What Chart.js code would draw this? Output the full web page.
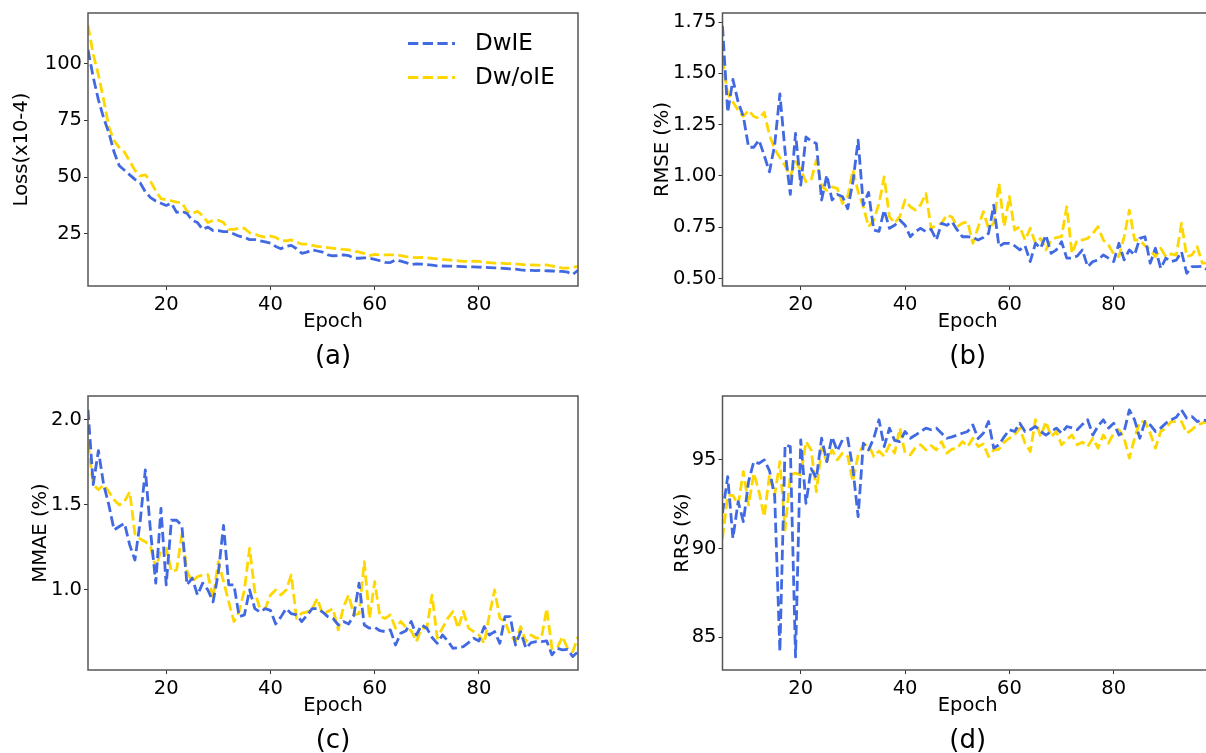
<!DOCTYPE html>
<html><head><meta charset="utf-8">
<script src="https://cdn.jsdelivr.net/npm/chart.js@4.4.0/dist/chart.umd.min.js"></script>
<style>
html,body{margin:0;padding:0;background:#fff;overflow:hidden;width:1206px;height:753px;position:relative;}
.box{position:absolute;}
canvas{display:block;}
</style></head><body>
<div class="box" style="left:0px;top:0px"><canvas id="ca" width="603" height="380" style="width:603px;height:380px"></canvas></div>
<div class="box" style="left:600px;top:0px"><canvas id="cb" width="620" height="380" style="width:620px;height:380px"></canvas></div>
<div class="box" style="left:0px;top:380px"><canvas id="cc" width="603" height="373" style="width:603px;height:373px"></canvas></div>
<div class="box" style="left:600px;top:380px"><canvas id="cd" width="620" height="373" style="width:620px;height:373px"></canvas></div>
<script>
// ---------------- data ----------------
const seriesNames = ['DwIE', 'Dw/oIE'];
const epochs = [5,6,7,8,9,10,11,12,13,14,
  15,16,17,18,19,20,21,22,23,24,
  25,26,27,28,29,30,31,32,33,34,
  35,36,37,38,39,40,41,42,43,44,
  45,46,47,48,49,50,51,52,53,54,
  55,56,57,58,59,60,61,62,63,64,
  65,66,67,68,69,70,71,72,73,74,
  75,76,77,78,79,80,81,82,83,84,
  85,86,87,88,89,90,91,92,93,94,
  95,96,97,98,99];
const xTickValues = [20, 40, 60, 80];
const captions = ['(a)', '(b)', '(c)', '(d)'];
const yTitles = ['Loss(x10-4)', 'RMSE (%)', 'MMAE (%)', 'RRS (%)'];

const lossDwIE = [106,94,84,76,69.5,61,55,53,51,49,
  47.5,43.5,41,39.5,38.5,37.5,38.5,34.5,35,34,
  31,30,27,28,26.5,26.5,26,26,25,24,
  23.5,22.5,22.5,22,21.5,21,19.5,18.5,19.5,20,
  18.5,16.5,17,18,17.5,17,15.8,15.4,15.5,15.8,
  15.5,14.3,14.3,14.5,14.3,13.8,13.2,12.5,12.4,13.6,
  13,12.4,11.5,11.8,11.7,11.5,11.3,11,10.9,10.8,
  10.8,10.7,10.6,10.5,10.5,10.4,10.3,10.2,10.1,10,
  9.8,9.6,9.5,9.2,9,9,8.9,9,8.8,8.7,
  8.6,8.5,8.2,7.2,9];
const lossDwoIE = [116.8,104,95,84,72,66,63,61,57,53,
  50.5,51,48,44,40.5,40,39.5,39,38.8,35,
  34,35,33,30,31,31,30,27,27,27.5,
  27.5,25.5,25,24,23.6,24,23.5,22,22,22.4,
  21.5,20.5,20.5,20,19.5,19.3,19,18.7,18.5,18.2,
  18,17.5,17,16.5,15.5,16,15.8,15.8,15.8,15.8,
  15.5,15,14.8,14.6,14.7,14.5,14.3,14,13.8,13.6,
  13.4,13.2,12.9,12.9,13,12.9,12.6,12.4,12.2,12.2,
  12,11.9,11.8,11.6,11.4,11.4,11.3,11.2,11.4,10.9,
  10.5,10,10,10.3,10.7];

const rmseDwIE = [1.73,1.31,1.47,1.36,1.29,1.14,1.14,1.175,1.10,1.02,
  1.15,1.40,1.12,0.91,1.207,0.955,1.19,1.17,1.158,0.883,
  1.004,0.883,0.91,0.90,0.84,0.97,1.174,0.858,0.92,0.737,
  0.73,0.834,0.745,0.76,0.785,0.76,0.704,0.73,0.745,0.729,
  0.74,0.688,0.769,0.76,0.777,0.737,0.704,0.704,0.70,0.688,
  0.70,0.72,0.858,0.656,0.672,0.672,0.66,0.64,0.66,0.583,
  0.672,0.648,0.712,0.623,0.64,0.68,0.60,0.60,0.61,0.64,
  0.558,0.583,0.591,0.615,0.60,0.583,0.672,0.591,0.64,0.615,
  0.696,0.704,0.575,0.648,0.55,0.60,0.583,0.59,0.631,0.526,
  0.558,0.558,0.56,0.542,0.55];
const rmseDwoIE = [1.57,1.40,1.36,1.32,1.29,1.32,1.29,1.28,1.31,1.20,
  1.13,1.09,1.05,1.00,1.07,1.03,0.972,0.98,1.077,0.95,
  0.93,0.947,0.94,0.866,0.9,1.03,0.923,0.85,0.753,0.785,
  0.866,0.996,0.802,0.77,0.802,0.883,0.85,0.834,0.86,0.915,
  0.745,0.76,0.77,0.81,0.80,0.753,0.77,0.777,0.672,0.75,
  0.826,0.745,0.77,0.964,0.753,0.90,0.737,0.753,0.688,0.745,
  0.672,0.696,0.64,0.688,0.70,0.704,0.85,0.623,0.688,0.688,
  0.696,0.72,0.753,0.688,0.664,0.62,0.607,0.704,0.834,0.688,
  0.688,0.66,0.64,0.607,0.648,0.607,0.62,0.615,0.77,0.607,
  0.615,0.656,0.575,0.575,0.57];

const mmaeDwIE = [2.06,1.62,1.82,1.62,1.50,1.353,1.373,1.392,1.265,1.176,
  1.40,1.706,1.343,1.04,1.48,1.03,1.41,1.41,1.38,1.03,
  1.07,0.97,1.04,1.0,0.93,1.10,1.38,1.03,1.03,0.843,
  0.853,1.0,0.89,0.87,0.89,0.88,0.80,0.84,0.89,0.86,
  0.853,0.814,0.85,0.89,0.89,0.87,0.843,0.833,0.794,0.814,
  0.80,0.85,1.04,0.794,0.775,0.78,0.76,0.755,0.765,0.676,
  0.745,0.76,0.814,0.735,0.794,0.775,0.72,0.686,0.735,0.70,
  0.657,0.66,0.667,0.69,0.716,0.70,0.784,0.735,0.755,0.686,
  0.843,0.843,0.676,0.755,0.657,0.69,0.696,0.696,0.70,0.618,
  0.657,0.647,0.65,0.608,0.637];
const mmaeDwoIE = [1.863,1.62,1.59,1.618,1.578,1.53,1.50,1.52,1.578,1.33,
  1.30,1.284,1.255,1.127,1.235,1.245,1.108,1.118,1.324,1.108,
  1.05,1.078,1.088,1.09,0.951,1.167,1.05,0.93,0.814,0.873,
  1.0,1.245,0.99,0.89,0.89,0.97,1.0,0.97,1.0,1.088,
  0.833,0.863,0.87,0.89,0.951,0.853,0.873,0.89,0.765,0.90,
  0.97,0.853,0.86,1.167,0.833,1.049,0.843,0.833,0.853,0.775,
  0.814,0.78,0.76,0.696,0.775,0.775,0.97,0.716,0.775,0.833,
  0.873,0.775,0.873,0.775,0.755,0.735,0.686,0.853,1.0,0.833,
  0.814,0.735,0.696,0.784,0.696,0.735,0.716,0.72,0.89,0.657,
  0.657,0.725,0.657,0.637,0.725];

const rrsDwIE = [92.0,94.06,90.58,92.65,91.52,93.78,94.9,94.8,95.0,94.4,
  93.0,84.2,95.85,95.75,83.9,96.13,92.55,94.5,93.97,96.22,
  94.9,96.3,95.5,96.13,96.22,94.5,91.8,95.94,95.56,96.22,
  97.26,95.75,96.79,96.1,96.03,96.6,96.22,96.4,96.6,96.79,
  96.7,96.79,96.5,96.22,96.3,96.4,96.5,96.6,96.97,96.2,
  96.5,97.16,95.66,95.85,96.3,96.7,96.6,97.07,96.6,96.7,
  96.88,96.6,96.4,96.6,96.79,96.5,96.88,96.8,96.7,97.0,
  97.26,96.4,96.9,97.26,96.79,97.07,96.4,96.6,97.82,97.26,
  96.22,97.16,96.97,96.6,96.79,97.07,97.26,97.4,97.82,97.35,
  97.44,97.16,97.26,97.2,97.2];
const rrsDwoIE = [90.58,93.0,93.0,92.46,94.34,92.46,94.25,93.2,91.8,94.15,
  93.0,94.9,91.05,94.15,94.25,94.15,96.03,95.56,93.2,95.66,
  94.9,95.56,95.0,95.38,95.2,93.78,95.28,95.85,95.85,95.19,
  95.5,95.2,95.85,95.38,96.79,95.38,95.28,95.7,95.85,95.56,
  95.8,95.56,96.03,95.38,95.6,95.66,96.03,95.75,96.22,95.75,
  95.9,95.19,95.56,95.6,96.0,96.22,96.4,96.79,95.94,95.47,
  97.26,96.3,97.16,96.3,96.6,95.85,96.13,96.4,95.85,96.0,
  95.75,96.22,95.66,96.4,95.94,96.5,96.7,96.22,95.1,96.22,
  97.16,97.16,96.5,95.66,96.6,96.79,97.16,97.16,97.16,96.5,
  96.7,96.97,97.07,97.16,97.2];

const lossTicks = [25, 50, 75, 100];
const lossTickLabels = ['25', '50', '75', '100'];
const rmseTicks = [0.5, 0.75, 1.0, 1.25, 1.5, 1.75];
const rmseTickLabels = ['0.50', '0.75', '1.00', '1.25', '1.50', '1.75'];
const mmaeTicks = [1.0, 1.5, 2.0];
const mmaeTickLabels = ['1.0', '1.5', '2.0'];
const rrsTicks = [85, 90, 95];
const rrsTickLabels = ['85', '90', '95'];

// ---------------- styles ----------------
const colors = ['#4169E1', '#FFD700'];
const FONT = 'DejaVu Sans';
const tickFont = {family: FONT, size: 19.5, lineHeight: 1.2};

const framePlugin = {
  id: 'frame',
  afterDatasetsDraw(chart) {
    const {ctx, chartArea: a} = chart;
    ctx.save();
    ctx.strokeStyle = '#555';
    ctx.lineWidth = 1.5;
    ctx.setLineDash([]);
    ctx.strokeRect(a.left, a.top, a.right - a.left, a.bottom - a.top);
    ctx.restore();
  }
};
const captionPlugin = {
  id: 'caption',
  afterDraw(chart, args, opts) {
    const {ctx, chartArea: a} = chart;
    ctx.save();
    ctx.fillStyle = '#000';
    ctx.font = '26px "' + FONT + '"';
    ctx.textAlign = 'center';
    ctx.textBaseline = 'middle';
    ctx.fillText(opts.text, (a.left + a.right) / 2, a.bottom + 71);
    ctx.restore();
  }
};
const innerLegendPlugin = {
  id: 'innerLegend',
  afterDraw(chart, args, opts) {
    if (!opts.show) return;
    const ctx = chart.ctx;
    ctx.save();
    chart.data.datasets.forEach((ds, i) => {
      const y = 43.5 + i * 34;
      ctx.strokeStyle = ds.borderColor;
      ctx.lineWidth = ds.borderWidth;
      ctx.setLineDash(ds.borderDash);
      ctx.lineCap = 'butt';
      ctx.beginPath();
      ctx.moveTo(408, y);
      ctx.lineTo(455, y);
      ctx.stroke();
      ctx.setLineDash([]);
      ctx.fillStyle = '#000';
      ctx.font = '23px "' + FONT + '"';
      ctx.textAlign = 'left';
      ctx.textBaseline = 'middle';
      ctx.fillText(ds.label, 475, y + 1);
    });
    ctx.restore();
  }
};

function buildChart(id, spec) {
  const pts = vals => epochs.map((e, i) => ({x: e, y: vals[i]}));
  const ds = (k, vals) => ({
    label: seriesNames[k], data: pts(vals),
    borderColor: colors[k], backgroundColor: colors[k],
    borderWidth: 2.8, borderDash: [10.3, 4.4],
    borderCapStyle: 'butt', borderJoinStyle: 'round',
    pointRadius: 0, tension: 0, fill: false, clip: 0
  });
  return new Chart(document.getElementById(id), {
    type: 'line',
    data: {datasets: [ds(0, spec.blue), ds(1, spec.gold)]},
    options: {
      responsive: false, animation: false, devicePixelRatio: 1,
      layout: {padding: spec.pad},
      plugins: {
        legend: {display: false}, tooltip: {enabled: false},
        caption: {text: spec.caption},
        innerLegend: {show: !!spec.legend}
      },
      scales: {
        x: {
          type: 'linear', min: 5, max: 99,
          afterBuildTicks: s => { s.ticks = xTickValues.map(v => ({value: v})); },
          afterFit: s => { s.height = 47.4; s.paddingLeft = 0; s.paddingRight = 0; },
          ticks: {font: tickFont, color: '#000', padding: 3, maxRotation: 0, autoSkip: false,
                  callback: v => String(v)},
          grid: {drawOnChartArea: false, drawTicks: true, tickLength: 4, color: '#333', lineWidth: 1},
          border: {display: false},
          title: {display: true, text: 'Epoch', font: tickFont, color: '#000', padding: 0}
        },
        y: {
          type: 'linear', min: spec.yMin, max: spec.yMax,
          afterBuildTicks: s => { s.ticks = spec.ticks.map(v => ({value: v})); },
          afterFit: s => { s.width = spec.yWidth; s.paddingTop = 0; s.paddingBottom = 0; },
          ticks: {font: tickFont, color: '#000', padding: 2, autoSkip: false,
                  callback: (v, i) => spec.tickLabels[i]},
          grid: {drawOnChartArea: false, drawTicks: true, tickLength: 4, color: '#333', lineWidth: 1},
          border: {display: false},
          title: {display: true, text: spec.yTitle, font: tickFont, color: '#000', padding: 0}
        }
      }
    },
    plugins: [framePlugin, captionPlugin, innerLegendPlugin]
  });
}

buildChart('ca', {blue: lossDwIE, gold: lossDwoIE, yMin: 2.1, yMax: 122.2,
  ticks: lossTicks, tickLabels: lossTickLabels, yTitle: yTitles[0], caption: captions[0],
  legend: true, yWidth: 77.4, pad: {left: 10.6, top: 13, right: 25, bottom: 46.6}});
buildChart('cb', {blue: rmseDwIE, gold: rmseDwoIE, yMin: 0.464, yMax: 1.794,
  ticks: rmseTicks, tickLabels: rmseTickLabels, yTitle: yTitles[1], caption: captions[1],
  yWidth: 70.9, pad: {left: 51.6, top: 13, right: 7.2, bottom: 46.6}});
buildChart('cc', {blue: mmaeDwIE, gold: mmaeDwoIE, yMin: 0.529, yMax: 2.141,
  ticks: mmaeTicks, tickLabels: mmaeTickLabels, yTitle: yTitles[2], caption: captions[2],
  yWidth: 58.4, pad: {left: 29.6, top: 16, right: 25, bottom: 35.6}});
buildChart('cd', {blue: rrsDwIE, gold: rrsDwoIE, yMin: 83.16, yMax: 98.6,
  ticks: rrsTicks, tickLabels: rrsTickLabels, yTitle: yTitles[3], caption: captions[3],
  yWidth: 50.9, pad: {left: 71.6, top: 16, right: 7.2, bottom: 35.6}});
</script>
</body></html>
